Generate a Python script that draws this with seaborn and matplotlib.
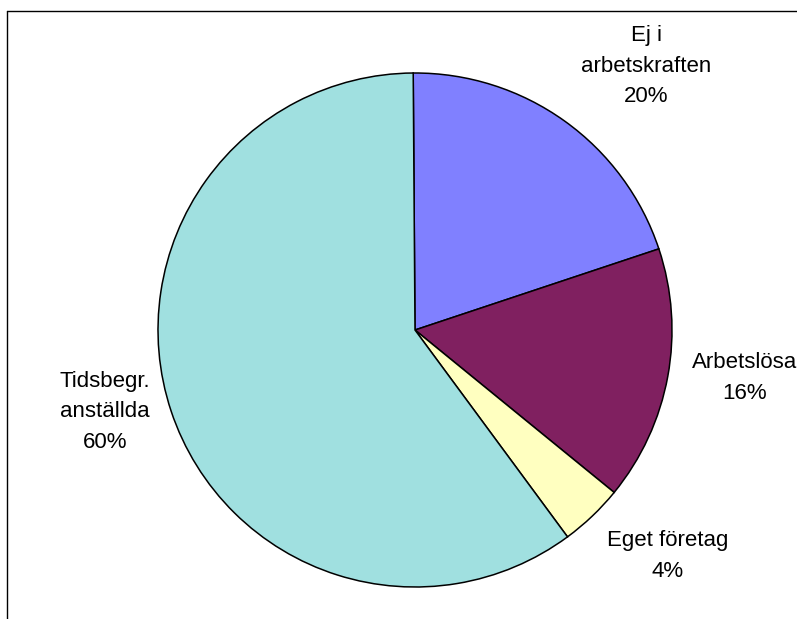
import matplotlib
matplotlib.use("Agg")
import matplotlib.pyplot as plt
from matplotlib.lines import Line2D
import seaborn as sns

# Data
categories = ["Ej i\narbetskraften", "Arbetslösa", "Eget företag", "Tidsbegr.\nanställda"]
shares = [20, 16, 4, 60]
colors = ["#8080FF", "#802060", "#FFFFC0", "#A0E0E0"]

# Label anchor positions, in pie-radius units from the centre
label_pos = [(0.899, 1.027), (1.284, -0.187), (0.984, -0.879), (-1.206, -0.319)]

sns.set_theme(style="white")
plt.rcParams["font.family"] = ["Liberation Sans", "DejaVu Sans"]

W, H = 797, 619
fig = plt.figure(figsize=(W / 100, H / 100), dpi=100)
ax = fig.add_axes([0, 0, 1, 1])

cx, cy, r = 415, 330, 257
ax.pie(shares, colors=sns.color_palette(colors), startangle=90.4, counterclock=False,
       wedgeprops=dict(edgecolor="black", linewidth=1.1), radius=1)
ax.set_aspect("auto")
ax.set_xlim(-cx / r, (W - cx) / r)
ax.set_ylim(-(H - cy) / r, cy / r)
ax.axis("off")

for name, v, (x, y) in zip(categories, shares, label_pos):
    ax.text(x, y, f"{name}\n{v}%", ha="center", va="center", multialignment="center",
            fontsize=16, linespacing=1.62, color="black")

# Chart-area border (its right and bottom sides fall outside the canvas)
x0, y0 = 7.5 / W, 1 - 10.5 / H
fig.add_artist(Line2D([x0, x0], [0, y0], transform=fig.transFigure, color="black", lw=1.0))
fig.add_artist(Line2D([x0, 1], [y0, y0], transform=fig.transFigure, color="black", lw=1.0))

fig.savefig("out.png", dpi=100)
